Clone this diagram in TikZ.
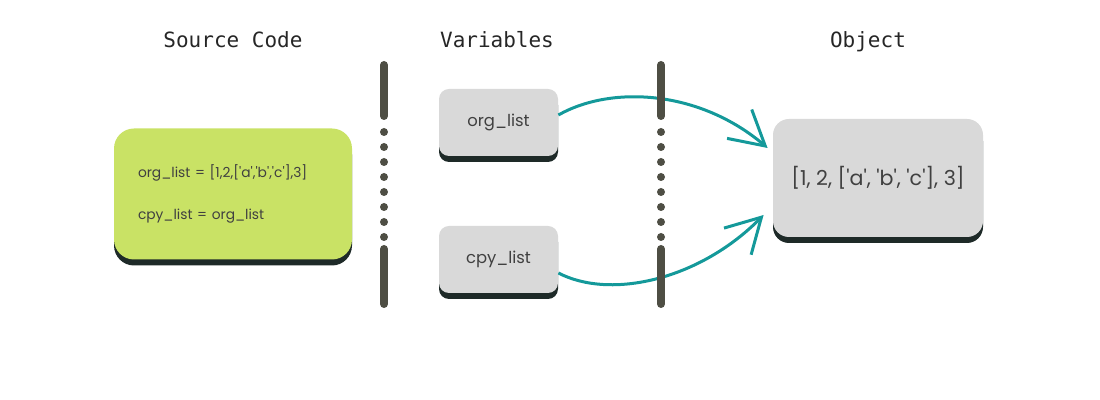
\documentclass[tikz,border=0pt]{standalone}
\usepackage{fontspec}
\newfontfamily\popfont{Poppins}
\newfontfamily\headfont{DejaVu Sans Mono}
\usetikzlibrary{arrows.meta,shadows}
\definecolor{srcgreen}{HTML}{C9E265}
\definecolor{boxgray}{HTML}{D9D9D9}
\definecolor{shadowdark}{HTML}{1E2A28}
\definecolor{txtgray}{HTML}{404040}
\definecolor{refteal}{HTML}{14999A}
\definecolor{divgray}{HTML}{4E4E44}
\newcommand{\sq}{\textquotesingle}

\begin{document}
\begin{tikzpicture}[x=0.5pt,y=-0.5pt,
	heading/.style={font=\headfont\fontsize{10.5}{12}\selectfont, text=black!85, anchor=base},
	codebox/.style={rounded corners=#1, text=txtgray, inner sep=0pt,
		drop shadow={shadow xshift=0pt, shadow yshift=-3pt, fill=shadowdark, opacity=1}},
	refarrow/.style={refteal, line width=1.5pt, -{Straight Barb[length=17pt,width=19pt]}},
	divider/.style={divgray, line width=4pt, line cap=round}]
	\useasboundingbox (0,0) rectangle (1100,400);
	
	\node[heading] (srchead) at (233,48) {Source Code};
	\node[heading] (varhead) at (497,48) {Variables};
	\node[heading] (objhead) at (868,48) {Object};
	
	\node[codebox=10pt, fill=srcgreen, minimum width=119pt, minimum height=65.5pt,
		text width=95pt, inner xsep=12pt, align=left, font=\popfont\fontsize{6.9}{8.4}\selectfont]
		(src) at (233,194) {org\_list = [1,2,[\sq a\sq,\sq b\sq,\sq c\sq],3]\\[13pt]cpy\_list = org\_list};
	
	\node[codebox=5pt, fill=boxgray, minimum width=59.5pt, minimum height=33.5pt,
		font=\popfont\fontsize{8.2}{10}\selectfont] (org) at (498.5,122.5) {org\_list};
	\node[codebox=5pt, fill=boxgray, minimum width=59.5pt, minimum height=33.5pt,
		font=\popfont\fontsize{8.2}{10}\selectfont] (cpy) at (498.5,259.5) {cpy\_list};
	
	\node[codebox=8pt, fill=boxgray, minimum width=105pt, minimum height=59pt,
		font=\popfont\fontsize{10.3}{12}\selectfont] (obj) at (878,178) {[1, 2, [\sq a\sq, \sq b\sq, \sq c\sq], 3]};
	
	\draw[refarrow] ([yshift=3.75pt]org.east) .. controls +(53,-30) and +(-68,-58) .. ([xshift=-2.5pt,yshift=15pt]obj.west);
	\draw[refarrow] ([yshift=-6.75pt]cpy.east) .. controls +(52,27) and +(-64,65) .. ([xshift=-4.5pt,yshift=-18.5pt]obj.west);
	
	% dividers
	\foreach \dx in {384,661} {
		\draw[divider] (\dx,65) -- (\dx,116);
		\draw[divider] (\dx,249) -- (\dx,304);
		\foreach \dy in {132,147,...,237}
			\fill[divgray] (\dx,\dy) circle (2pt);
	}
\end{tikzpicture}
\end{document}
